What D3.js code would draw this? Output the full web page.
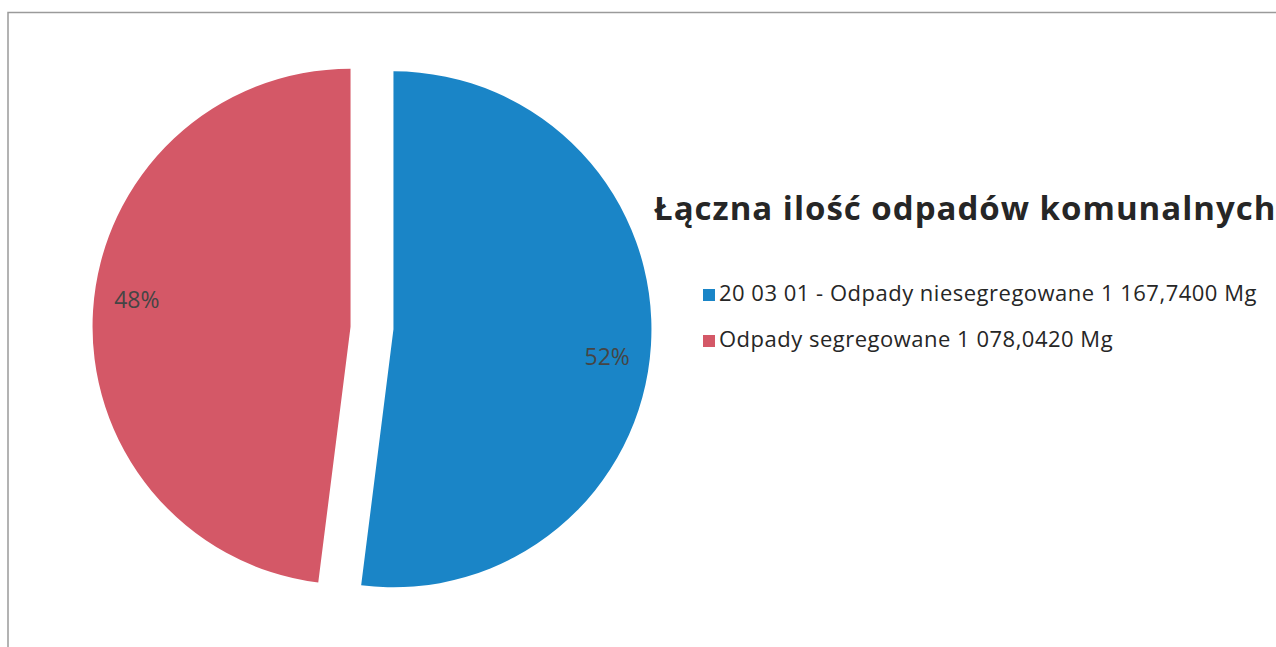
<!DOCTYPE html>
<meta charset="utf-8">
<style>
body {
  margin: 0;
  background: #fff;
  font-family: "Open Sans", "DejaVu Sans", sans-serif;
}
svg {
  display: block;
}
.frame {
  fill: none;
  stroke: #9a9a9a;
  stroke-width: 1.5px;
}
.slice {
  stroke: none;
}
.pct {
  font-size: 23px;
  fill: #454545;
  text-anchor: middle;
}
.title {
  font-size: 33px;
  font-weight: bold;
  letter-spacing: 1px;
  fill: #262626;
}
.legend text {
  font-size: 22px;
  letter-spacing: 0.5px;
  fill: #262626;
}
</style>
<body>
<script src="https://cdnjs.cloudflare.com/ajax/libs/d3/7.8.5/d3.min.js"></script>
<script>

// dane
var categories = ["20 03 01 - Odpady niesegregowane", "Odpady segregowane"];
var amounts = [1167.7400, 1078.0420];
var amountLabels = ["1 167,7400 Mg", "1 078,0420 Mg"];
var colors = ["#1a85c7", "#d45867"];
var title = "Łączna ilość odpadów komunalnych";

var width = 1276,
    height = 647,
    cx = 372,
    cy = 328,
    radius = 258,
    explode = 21.5;

var data = categories.map(function(c, i) {
  return {label: c, value: amounts[i], text: amountLabels[i], color: colors[i]};
});

var svg = d3.select("body").append("svg")
  .attr("width", width)
  .attr("height", height);

// ramka (lewa i gorna krawedz skanu)
svg.append("path")
  .attr("class", "frame")
  .attr("d", "M8," + height + "V12.5H" + width);

var pie = d3.pie()
  .sort(null)
  .value(function(d) { return d.value; });

var arc = d3.arc()
  .innerRadius(0)
  .outerRadius(radius);

var labelArc = d3.arc()
  .innerRadius(radius * 0.83)
  .outerRadius(radius * 0.83);

var total = d3.sum(amounts);
var arcs = pie(data);

function midAngle(d) {
  return (d.startAngle + d.endAngle) / 2;
}
function offset(d) {
  var a = midAngle(d);
  return [Math.sin(a) * explode, -Math.cos(a) * explode];
}

var g = svg.append("g")
  .attr("transform", "translate(" + cx + "," + cy + ")");

var slices = g.selectAll("g.part")
  .data(arcs)
  .enter().append("g")
  .attr("class", "part")
  .attr("transform", function(d) { return "translate(" + offset(d) + ")"; });

slices.append("path")
  .attr("class", "slice")
  .attr("d", arc)
  .style("fill", function(d) { return d.data.color; });

slices.append("text")
  .attr("class", "pct")
  .attr("transform", function(d) {
    var p = labelArc.centroid(d);
    // Excel przesuwa etykiety nieco w dol/gore
    p[1] += Math.sin(midAngle(d)) > 0 ? 14 : -14;
    return "translate(" + p + ")";
  })
  .attr("dy", "0.36em")
  .text(function(d) { return Math.round(d.data.value / total * 100) + "%"; });

// tytul
svg.append("text")
  .attr("class", "title")
  .attr("x", 654)
  .attr("y", 220)
  .text(title);

// legenda
var legend = svg.append("g")
  .attr("class", "legend")
  .attr("transform", "translate(703,289)");

var item = legend.selectAll("g")
  .data(data)
  .enter().append("g")
  .attr("transform", function(d, i) { return "translate(0," + i * 46 + ")"; });

item.append("rect")
  .attr("width", 12)
  .attr("height", 12)
  .style("fill", function(d) { return d.color; });

item.append("text")
  .attr("x", 16)
  .attr("y", 12)
  .text(function(d) { return d.label + " " + d.text; });

</script>
</body>
